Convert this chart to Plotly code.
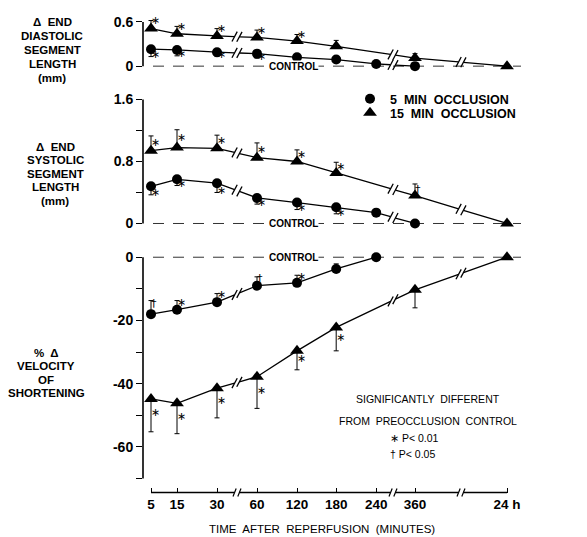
import plotly.graph_objects as go

# ---------------- data ----------------
time_labels = ['5', '15', '30', '60', '120', '180', '240', '360', '24 h']
time_pos = [0, 0.65, 1.65, 2.65, 3.65, 4.63, 5.63, 6.6, 8.9]   # broken-axis category positions
axis_breaks = [2.15, 6.05, 7.75]

# 5 MIN OCCLUSION (circles)
edl_circ_idx = [0, 1, 2, 3, 4, 5, 6, 7]
edl_circ = [0.23, 0.22, 0.19, 0.17, 0.12, 0.09, 0.03, 0.0]
edl_circ_err = [0.10, 0.08, 0.06, 0.06, 0.04, 0.04, 0.0, 0.0]
edl_circ_sig = ['∗', '∗', '∗', '∗', '', '', '', '']

esl_circ_idx = [0, 1, 2, 3, 4, 5, 6, 7]
esl_circ = [0.48, 0.57, 0.52, 0.33, 0.27, 0.21, 0.14, 0.0]
esl_circ_err = [0.11, 0.08, 0.12, 0.08, 0.09, 0.085, 0.04, 0.0]
esl_circ_sig = ['∗', '∗', '∗', '∗', '∗', '∗', '', '']

vel_circ_idx = [0, 1, 2, 3, 4, 5, 6]
vel_circ = [-18.0, -16.6, -14.2, -9.0, -8.1, -3.7, 0.0]
vel_circ_err = [4.3, 2.9, 2.7, 2.8, 2.4, 1.6, 0.0]
vel_circ_sig = ['†', '∗', '∗', '†', '∗', '', '']

# 15 MIN OCCLUSION (triangles)
edl_tri_idx = [0, 1, 2, 3, 4, 5, 7, 8]
edl_tri = [0.51, 0.44, 0.41, 0.39, 0.34, 0.27, 0.11, 0.0]
edl_tri_err = [0.11, 0.10, 0.10, 0.10, 0.09, 0.08, 0.06, 0.0]
edl_tri_sig = ['∗', '∗', '∗', '∗', '∗', '', '', '']

esl_tri_idx = [0, 1, 2, 3, 4, 5, 7, 8]
esl_tri = [0.94, 0.98, 0.97, 0.85, 0.80, 0.65, 0.36, 0.0]
esl_tri_err = [0.19, 0.23, 0.17, 0.19, 0.15, 0.14, 0.15, 0.0]
esl_tri_sig = ['∗', '∗', '∗', '∗', '∗', '∗', '†', '']

vel_tri_idx = [0, 1, 2, 3, 4, 5, 7, 8]
vel_tri = [-44.8, -46.2, -41.4, -37.8, -29.6, -22.2, -10.3, 0.0]
vel_tri_err = [10.4, 9.6, 9.4, 10.0, 6.0, 7.4, 5.7, 0.0]
vel_tri_sig = ['∗', '∗', '∗', '∗', '∗', '∗', '', '']

panel_titles = [
    ['Δ  END', 'DIASTOLIC', 'SEGMENT', 'LENGTH', '(mm)'],
    ['Δ  END', 'SYSTOLIC', 'SEGMENT', 'LENGTH', '(mm)'],
    ['%  Δ', 'VELOCITY', 'OF', 'SHORTENING'],
]
series_names = ['5  MIN  OCCLUSION', '15  MIN  OCCLUSION']
x_title = 'TIME  AFTER  REPERFUSION  (MINUTES)'
sig_text = ['SIGNIFICANTLY  DIFFERENT', 'FROM  PREOCCLUSION  CONTROL']
p_text = ['∗ P< 0.01', '† P< 0.05']

# ---------------- layout helpers ----------------
OFF_X = 8                     # page body margin of the html file
W, H = 587 - OFF_X, 537       # figure size
FONT = 'Liberation Sans, Arial, sans-serif'


def py(pix):
    # target screen row -> paper fraction (compensates page offset)
    return (H - (pix - 12) / 0.983) / H


def pxx(pix):
    return (pix - OFF_X) / W


GAP = 0.06


def broken_path(xs, ys):
    lx, ly, sx, sy = [], [], [], []
    for i in range(len(xs)):
        if i > 0:
            x0, y0, x1, y1 = xs[i - 1], ys[i - 1], xs[i], ys[i]
            for b in axis_breaks:
                if x0 < b < x1:
                    for k, bx in enumerate((b - GAP, b + GAP)):
                        by = y0 + (y1 - y0) * (bx - x0) / (x1 - x0)
                        lx.append(bx)
                        ly.append(by)
                        sx.append(bx)
                        sy.append(by)
                        if k == 0:
                            lx.append(None)
                            ly.append(None)
        lx.append(xs[i])
        ly.append(ys[i])
    return lx, ly, sx, sy


fig = go.Figure()

# (idx, values, err, sig, error direction, fraction of bar where the sig mark sits)
panels = [
    ('y', [(edl_circ_idx, edl_circ, edl_circ_err, edl_circ_sig, 'down', 0.8),
           (edl_tri_idx, edl_tri, edl_tri_err, edl_tri_sig, 'up', 0.85)]),
    ('y2', [(esl_circ_idx, esl_circ, esl_circ_err, esl_circ_sig, 'down', 0.85),
            (esl_tri_idx, esl_tri, esl_tri_err, esl_tri_sig, 'up', 0.5)]),
    ('y3', [(vel_circ_idx, vel_circ, vel_circ_err, vel_circ_sig, 'up', 0.75),
            (vel_tri_idx, vel_tri, vel_tri_err, vel_tri_sig, 'down', 0.45)]),
]
symbols = ['circle', 'triangle-up']
sizes = [10, 12]

# control (zero) lines
for yref, _ in panels:
    fig.add_shape(type='line', xref='x', yref=yref, x0=0.05, x1=9.25, y0=0, y1=0,
                  line=dict(color='#333', width=1, dash='11px,9px'), layer='below')

for yref, series in panels:
    for s, (idx, vals, err, sig, direction, frac) in enumerate(series):
        xs = [time_pos[i] for i in idx]
        lx, ly, sx, sy = broken_path(xs, vals)
        fig.add_trace(go.Scatter(x=lx, y=ly, yaxis=yref, mode='lines',
                                 line=dict(color='black', width=1.3), showlegend=False,
                                 hoverinfo='skip'))
        fig.add_trace(go.Scatter(x=sx, y=sy, yaxis=yref, mode='markers',
                                 marker=dict(symbol='line-ns', size=8, angle=28,
                                             line=dict(color='black', width=1.3)),
                                 showlegend=False, hoverinfo='skip', cliponaxis=False))
        zeros = [0] * len(err)
        ey = dict(type='data', symmetric=False,
                  array=err if direction == 'up' else zeros,
                  arrayminus=err if direction == 'down' else zeros,
                  width=2.5, thickness=1, color='black')
        fig.add_trace(go.Scatter(x=xs, y=vals, yaxis=yref, mode='markers',
                                 marker=dict(symbol=symbols[s], size=sizes[s], color='black'),
                                 error_y=ey, showlegend=False, cliponaxis=False))
        sgn = 1 if direction == 'up' else -1
        ty = [v + sgn * frac * e for v, e in zip(vals, err)]
        fig.add_trace(go.Scatter(x=xs, y=ty, yaxis=yref, mode='text', text=sig,
                                 textposition='middle right',
                                 textfont=dict(family='DejaVu Sans, sans-serif', size=11,
                                               color='black'),
                                 showlegend=False, cliponaxis=False, hoverinfo='skip'))

# legend entries (two legends, one row each)
for s in range(2):
    fig.add_trace(go.Scatter(x=[None], y=[None], mode='markers', name=series_names[s],
                             marker=dict(symbol=symbols[s], size=sizes[s], color='black'),
                             legend='legend' if s == 0 else 'legend2', showlegend=True))

# y-axis lines (only spanning labelled extent)
yline_extent = [('y', 0, 0.6), ('y2', 0, 1.6), ('y3', -70, 0)]
for yref, a, b in yline_extent:
    fig.add_shape(type='line', xref='paper', yref=yref, x0=pxx(143), x1=pxx(143), y0=a, y1=b,
                  line=dict(color='black', width=1.6))

# x-axis line with breaks
X_AX = 491.5
segs = [time_pos[0]] + [v for b in axis_breaks for v in (b - GAP, b + GAP)] + [time_pos[-1]]
for i in range(0, len(segs), 2):
    fig.add_shape(type='line', xref='x', yref='paper', x0=segs[i], x1=segs[i + 1],
                  y0=py(X_AX), y1=py(X_AX), line=dict(color='black', width=1.6))
for b in axis_breaks:
    for bx in (b - GAP, b + GAP):
        fig.add_shape(type='line', xref='x', yref='paper', x0=bx - 0.04, x1=bx + 0.04,
                      y0=py(X_AX + 4), y1=py(X_AX - 4), line=dict(color='black', width=1.2))

tickfont = dict(family=FONT, size=14, color='black', weight='bold')
xtickfont = dict(family=FONT, size=13.5, color='black', weight='bold')
fig.update_layout(
    width=W, height=H, margin=dict(l=0, r=0, t=0, b=0),
    paper_bgcolor='white', plot_bgcolor='white',
    xaxis=dict(domain=[pxx(143), pxx(523)], range=[-0.2, 9.3], anchor='free',
               position=py(X_AX), showline=False, showgrid=False, zeroline=False,
               tickmode='array', tickvals=time_pos, ticktext=time_labels,
               ticks='inside', ticklen=5, tickwidth=1.2, tickcolor='black',
               tickfont=xtickfont, ticklabelstandoff=2),
    yaxis=dict(domain=[py(69.7), py(18.3)], range=[-0.05, 0.65], anchor='x',
               showline=False, showgrid=False, zeroline=False,
               tickmode='array', tickvals=[0, 0.6], ticktext=['0', '0.6'],
               ticks='outside', ticklen=6, tickwidth=1.2, tickcolor='black', tickfont=tickfont),
    yaxis2=dict(domain=[py(226.9), py(91.6)], range=[-0.05, 1.7], anchor='x',
                showline=False, showgrid=False, zeroline=False,
                tickmode='array', tickvals=[0, 0.4, 0.8, 1.2, 1.6],
                ticktext=['0', '', '0.8', '', '1.6'],
                ticks='outside', ticklen=6, tickwidth=1.2, tickcolor='black', tickfont=tickfont),
    yaxis3=dict(domain=[py(483.9), py(250.4)], range=[-72, 2], anchor='x',
                showline=False, showgrid=False, zeroline=False,
                tickmode='array', tickvals=[-70, -60, -50, -40, -30, -20, -10, 0],
                ticktext=['', '-60', '', '-40', '', '-20', '', '0'],
                ticks='outside', ticklen=6, tickwidth=1.2, tickcolor='black', tickfont=tickfont),
    legend=dict(x=pxx(350), y=py(84), xanchor='left', yanchor='top',
                font=dict(family=FONT, size=12.5, color='black', weight='bold'),
                bgcolor='rgba(0,0,0,0)', itemwidth=30, borderwidth=0),
    legend2=dict(x=pxx(350), y=py(98), xanchor='left', yanchor='top',
                 font=dict(family=FONT, size=12.5, color='black', weight='bold'),
                 bgcolor='rgba(0,0,0,0)', itemwidth=30, borderwidth=0),
)

annos = []
# panel y-titles: (center x, first line y, line spacing)
title_pos = [(52, 21.5, 14.0), (55, 146.5, 13.5), (46, 352, 13.5)]
for lines, (cx, y0, sp) in zip(panel_titles, title_pos):
    for i, t in enumerate(lines):
        annos.append(dict(text=t, x=pxx(cx), y=py(y0 + i * sp), xref='paper',
                          yref='paper', showarrow=False, xanchor='center', yanchor='middle',
                          font=dict(family=FONT, size=11.5, color='black', weight='bold')))
# CONTROL labels
for yref in ['y', 'y2', 'y3']:
    annos.append(dict(text='CONTROL', x=3.55, y=0, xref='x', yref=yref, showarrow=False,
                      bgcolor='white', font=dict(family=FONT, size=10, color='black',
                                                 weight='bold'),
                      xanchor='center', yanchor='middle', borderpad=0))
# significance block
for t, yy in zip(sig_text, [398, 420]):
    annos.append(dict(text=t, x=pxx(428), y=py(yy), xref='paper', yref='paper', showarrow=False,
                      xanchor='center', yanchor='middle',
                      font=dict(family=FONT, size=10.5, color='black')))
for t, yy in zip(p_text, [437, 453]):
    annos.append(dict(text=t, x=pxx(388), y=py(yy), xref='paper', yref='paper', showarrow=False,
                      xanchor='left', yanchor='middle',
                      font=dict(family=FONT, size=10.5, color='black')))
# x title
annos.append(dict(text=x_title, x=pxx(322), y=py(528), xref='paper', yref='paper',
                  showarrow=False, xanchor='center', yanchor='middle',
                  font=dict(family=FONT, size=11.5, color='black')))
fig.update_layout(annotations=annos)

fig.write_html('out.html')
